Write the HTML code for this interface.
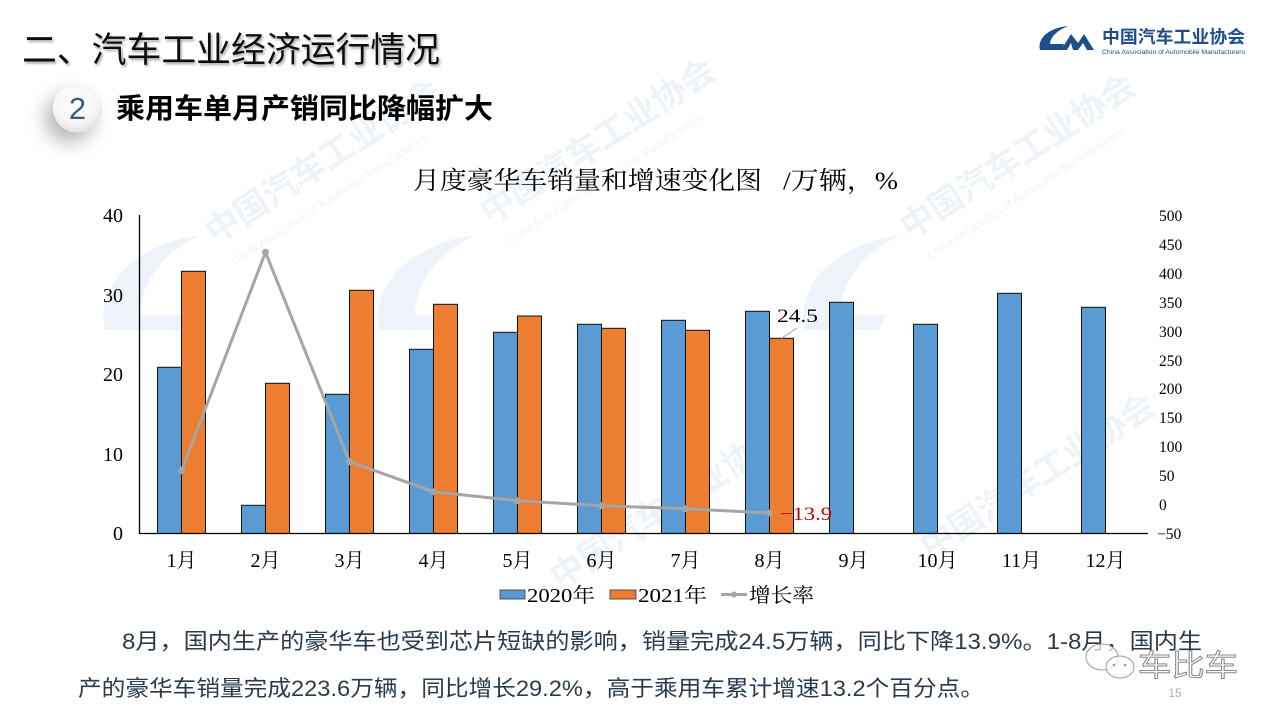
<!DOCTYPE html>
<html>
<head>
<meta charset="utf-8">
<style>
html,body{margin:0;padding:0;background:#fff;}
svg{display:block;}
.serif{font-family:"Liberation Serif","Noto Serif CJK SC",serif;}
.sans{font-family:"Liberation Sans","Noto Sans CJK SC",sans-serif;}
</style>
</head>
<body>
<svg width="1280" height="720" viewBox="0 0 1280 720" xmlns="http://www.w3.org/2000/svg">
<defs>
  <filter id="ds" x="-100%" y="-100%" width="300%" height="300%">
    <feDropShadow dx="-8" dy="10" stdDeviation="9" flood-color="#000" flood-opacity="0.28"/>
  </filter>
  <filter id="ts" x="-10%" y="-30%" width="120%" height="160%">
    <feDropShadow dx="1.5" dy="2" stdDeviation="1.2" flood-color="#000" flood-opacity="0.35"/>
  </filter>
  <radialGradient id="cg" cx="45%" cy="35%" r="70%">
    <stop offset="0" stop-color="#ffffff"/>
    <stop offset="0.7" stop-color="#f4f4f4"/>
    <stop offset="1" stop-color="#dcdcdc"/>
  </radialGradient>
</defs>
<rect width="1280" height="720" fill="#fff"/>

<!-- faint watermarks -->
<g class="sans" fill="#e9f0f7" font-weight="bold" font-size="34" opacity="0.8">
  <text x="215" y="245" transform="rotate(-33 215 245)">中国汽车工业协会</text>
  <text x="490" y="225" transform="rotate(-33 490 225)">中国汽车工业协会</text>
  <text x="910" y="240" transform="rotate(-33 910 240)">中国汽车工业协会</text>
  <text x="560" y="590" transform="rotate(-33 560 590)">中国汽车工业协会</text>
  <text x="930" y="560" transform="rotate(-33 930 560)">中国汽车工业协会</text>
</g>
<g class="sans" fill="#edf2f8" font-size="11" opacity="0.9">
  <text x="235" y="265" transform="rotate(-33 235 265)">China Association of Automobile Manufacturers</text>
  <text x="510" y="245" transform="rotate(-33 510 245)">China Association of Automobile Manufacturers</text>
  <text x="930" y="260" transform="rotate(-33 930 260)">China Association of Automobile Manufacturers</text>
</g>
<g fill="#edf3f9">
  <path d="M105,330 C95,290 130,245 200,235 C160,255 140,285 140,315 L185,315 L180,330 Z"/>
  <path d="M380,330 C370,290 405,245 475,235 C435,255 415,285 415,315 L460,315 L455,330 Z"/>
  <path d="M805,330 C795,290 830,245 900,235 C860,255 840,285 840,315 L885,315 L880,330 Z"/>
</g>

<!-- header -->
<text x="22" y="62" class="sans" font-size="35" fill="#111" filter="url(#ts)" textLength="418" lengthAdjust="spacingAndGlyphs">二、汽车工业经济运行情况</text>

<circle cx="77.5" cy="108" r="24.5" fill="url(#cg)" filter="url(#ds)"/>
<text x="77.5" y="119" text-anchor="middle" class="sans" font-size="31" fill="#3d5a7a">2</text>
<text x="116" y="118" class="sans" font-size="28" font-weight="bold" fill="#000" textLength="377" lengthAdjust="spacingAndGlyphs">乘用车单月产销同比降幅扩大</text>

<!-- logo -->
<g fill="#1f4e8c">
  <path d="M1040,50 C1037,38 1049,28 1068,26 C1056,31 1050,38 1050,44 L1064,44 L1062,50 Z"/>
  <path d="M1061,50 L1071,34 L1078,43 L1084,34 L1094,50 L1087,50 L1083,43 L1078,50 L1073,50 L1071,43 L1067,50 Z"/>
</g>
<text x="1102" y="43" class="sans" font-size="17.5" font-weight="bold" fill="#1f4e8c" textLength="143" lengthAdjust="spacingAndGlyphs">中国汽车工业协会</text>
<text x="1102" y="54" class="sans" font-size="6.5" fill="#1f4e8c" textLength="143" lengthAdjust="spacingAndGlyphs">China Association of Automobile Manufacturers</text>

<!-- chart title -->
<text x="413" y="189" class="serif" font-size="25" fill="#000" textLength="349" lengthAdjust="spacingAndGlyphs">月度豪华车销量和增速变化图</text>
<text x="783" y="189" class="serif" font-size="25" fill="#000" textLength="115" lengthAdjust="spacingAndGlyphs">/万辆，%</text>

<!-- left axis labels -->
<g class="serif" font-size="20" fill="#000" text-anchor="end">
  <text x="123" y="222">40</text>
  <text x="123" y="302">30</text>
  <text x="123" y="381">20</text>
  <text x="123" y="461">10</text>
  <text x="123" y="540">0</text>
</g>
<!-- right axis labels -->
<g class="serif" font-size="15.5" fill="#000">
  <text x="1159" y="221">500</text>
  <text x="1159" y="250">450</text>
  <text x="1159" y="279">400</text>
  <text x="1159" y="308">350</text>
  <text x="1159" y="337">300</text>
  <text x="1159" y="366">250</text>
  <text x="1159" y="394">200</text>
  <text x="1159" y="423">150</text>
  <text x="1159" y="452">100</text>
  <text x="1159" y="481">50</text>
  <text x="1159" y="510">0</text>
  <text x="1157" y="539">−50</text>
</g>

<!-- bars 2020 -->
<g fill="#5b9bd5" stroke="#111" stroke-width="1">
  <rect x="157.5" y="367.3" width="24" height="166.2"/>
  <rect x="241.5" y="505.3" width="24" height="28.2"/>
  <rect x="325.5" y="394.3" width="24" height="139.2"/>
  <rect x="409.5" y="349.3" width="24" height="184.2"/>
  <rect x="493.5" y="332.3" width="24" height="201.2"/>
  <rect x="577.5" y="324.3" width="24" height="209.2"/>
  <rect x="661.5" y="320.3" width="24" height="213.2"/>
  <rect x="745.5" y="311.3" width="24" height="222.2"/>
  <rect x="829.5" y="302.3" width="24" height="231.2"/>
  <rect x="913.5" y="324.3" width="24" height="209.2"/>
  <rect x="997.5" y="293.3" width="24" height="240.2"/>
  <rect x="1081.5" y="307.3" width="24" height="226.2"/>
</g>
<!-- bars 2021 -->
<g fill="#ed7d31" stroke="#111" stroke-width="1">
  <rect x="181.5" y="271.3" width="24" height="262.2"/>
  <rect x="265.5" y="383.3" width="24" height="150.2"/>
  <rect x="349.5" y="290.3" width="24" height="243.2"/>
  <rect x="433.5" y="304.3" width="24" height="229.2"/>
  <rect x="517.5" y="316" width="24" height="217.5"/>
  <rect x="601.5" y="328.3" width="24" height="205.2"/>
  <rect x="685.5" y="330.3" width="24" height="203.2"/>
  <rect x="769.5" y="338.3" width="24" height="195.2"/>
</g>

<!-- axes -->
<line x1="139.5" y1="215" x2="139.5" y2="534" stroke="#000" stroke-width="1.3"/>
<line x1="139" y1="533.5" x2="1148" y2="533.5" stroke="#000" stroke-width="1.3"/>

<!-- growth line -->
<polyline fill="none" stroke="#a5a5a5" stroke-width="3" stroke-linejoin="round"
  points="181.5,470.7 265.5,252.3 349.5,461.7 433.5,491.7 517.5,500.7 601.5,505.7 685.5,508.7 769.5,513"/>
<g fill="#a5a5a5">
  <circle cx="181.5" cy="470.7" r="3.5"/>
  <circle cx="265.5" cy="252.3" r="3.5"/>
  <circle cx="349.5" cy="461.7" r="3.5"/>
  <circle cx="433.5" cy="491.7" r="3.5"/>
  <circle cx="517.5" cy="500.7" r="3.5"/>
  <circle cx="601.5" cy="505.7" r="3.5"/>
  <circle cx="685.5" cy="508.7" r="3.5"/>
  <circle cx="769.5" cy="513" r="3.5"/>
</g>

<!-- data labels -->
<line x1="781.5" y1="338.3" x2="797" y2="328" stroke="#a5a5a5" stroke-width="1"/>
<text x="777" y="322" class="serif" font-size="19" fill="#000" textLength="41" lengthAdjust="spacingAndGlyphs">24.5</text>
<text x="780" y="520" class="serif" font-size="19" fill="#c00000" textLength="52" lengthAdjust="spacingAndGlyphs">−13.9</text>

<!-- category labels -->
<g class="serif" font-size="20" fill="#000" text-anchor="middle">
  <text x="181.5" y="567">1月</text>
  <text x="265.5" y="567">2月</text>
  <text x="349.5" y="567">3月</text>
  <text x="433.5" y="567">4月</text>
  <text x="517.5" y="567">5月</text>
  <text x="601.5" y="567">6月</text>
  <text x="685.5" y="567">7月</text>
  <text x="769.5" y="567">8月</text>
  <text x="853.5" y="567">9月</text>
  <text x="937.5" y="567">10月</text>
  <text x="1021.5" y="567">11月</text>
  <text x="1105.5" y="567">12月</text>
</g>

<!-- legend -->
<rect x="500" y="590" width="25" height="9" fill="#5b9bd5" stroke="#333" stroke-width="0.8"/>
<text x="527" y="602" class="serif" font-size="20" fill="#000" textLength="68" lengthAdjust="spacingAndGlyphs">2020年</text>
<rect x="610" y="590" width="26" height="9" fill="#ed7d31" stroke="#333" stroke-width="0.8"/>
<text x="638" y="602" class="serif" font-size="20" fill="#000" textLength="69" lengthAdjust="spacingAndGlyphs">2021年</text>
<line x1="721" y1="594.5" x2="747" y2="594.5" stroke="#a5a5a5" stroke-width="3"/>
<circle cx="734" cy="594.5" r="3" fill="#a5a5a5"/>
<text x="749" y="602" class="serif" font-size="20" fill="#000" textLength="65" lengthAdjust="spacingAndGlyphs">增长率</text>

<!-- bottom paragraph -->
<g class="sans" font-size="22" fill="#2b3a4c">
  <text x="122" y="649" textLength="1080" lengthAdjust="spacingAndGlyphs">8月，国内生产的豪华车也受到芯片短缺的影响，销量完成24.5万辆，同比下降13.9%。1-8月，国内生</text>
  <text x="78" y="696" textLength="906" lengthAdjust="spacingAndGlyphs">产的豪华车销量完成223.6万辆，同比增长29.2%，高于乘用车累计增速13.2个百分点。</text>
</g>

<!-- wechat watermark -->
<g fill="rgba(255,255,255,0.7)" stroke="#9a9a9a" stroke-width="1">
  <ellipse cx="1102" cy="657" rx="16" ry="13"/>
  <ellipse cx="1120" cy="667" rx="14" ry="11"/>
</g>
<g fill="#9a9a9a">
  <circle cx="1114" cy="665" r="1.3"/>
  <circle cx="1125" cy="665" r="1.3"/>
</g>
<text x="1138" y="676" class="sans" font-size="30" fill="#fff" stroke="#8a8a8a" stroke-width="1" textLength="100" lengthAdjust="spacingAndGlyphs">车比车</text>
<text x="1175" y="697" class="sans" font-size="12" fill="#b0b0b0" text-anchor="middle">15</text>
</svg>
</body>
</html>
